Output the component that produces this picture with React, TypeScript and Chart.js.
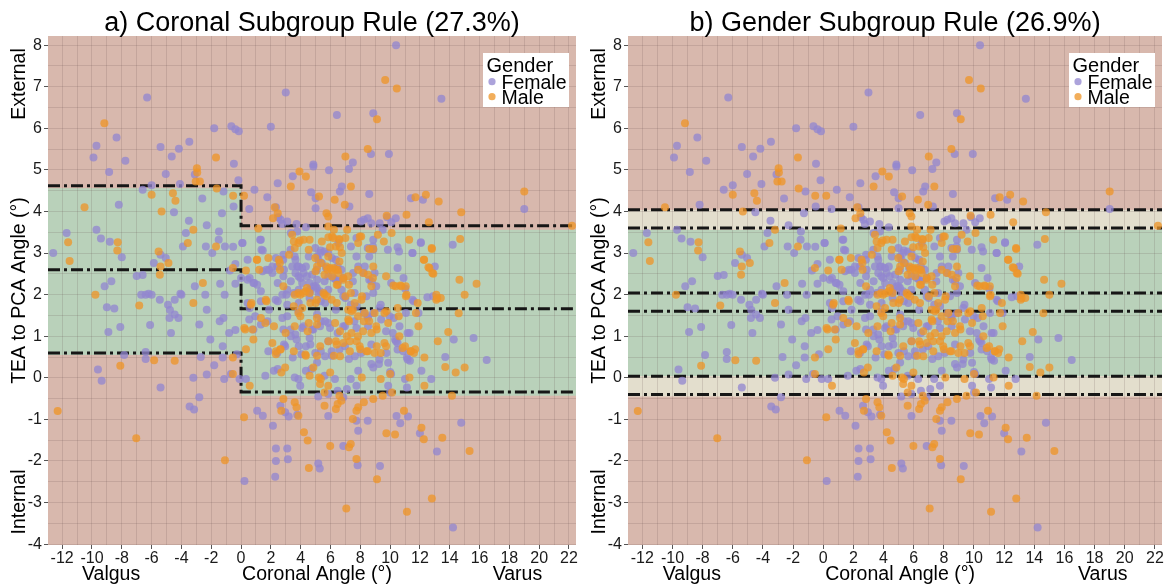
import React, { useEffect, useRef } from 'react';
import { Chart, registerables } from 'chart.js';

Chart.register(...registerables);

// ---------- axis ranges & labels ----------
const X_MIN = -12.95;
const X_MAX = 22.47;
const Y_MIN = -4.02;
const Y_MAX = 8.22;

const panelTitles = ['a) Coronal Subgroup Rule (27.3%)', 'b) Gender Subgroup Rule (26.9%)'];
const xAxisWords = ['Valgus', 'Coronal Angle (°)', 'Varus'];
const yAxisWords = ['Internal', 'TEA to PCA Angle (°)', 'External'];
const legendTitle = 'Gender';
const seriesNames = ['Female', 'Male'];

// ---------- rule values ----------
// coronal rule: split at coronal angle 0 ; [lower, mean, upper]
const coronalSplit = 0;
const valgusLines = [0.6, 2.6, 4.62];
const varusLines = [-0.34, 1.66, 3.66];
const valgusFill = [0.55, 4.56];
const varusFill = [-0.43, 3.56];
// gender rule: [lower, mean, upper]
const femaleLines = [0.04, 2.04, 4.04];
const maleLines = [-0.4, 1.6, 3.6];
const genderOverlap = [0.04, 3.56];
const genderUpperOnly = [3.56, 4.04];
const genderLowerOnly = [-0.45, 0.04];

// ---------- observations [coronal angle, TEA-PCA angle] ----------
const femaleUpper: number[][] = [
  [-12.6,3.0],[-11.7,3.48],[-9.9,5.3],[-9.7,5.58],[-8.85,4.95],[-8.35,5.78],[-7.76,5.22],[-8.2,4.16],[-9.7,3.56],[-9.4,3.35],
  [-8.8,3.27],[-8.0,2.9],[-6.3,6.74],[-6.6,4.52],[-6.0,4.63],[-5.4,5.55],[-5.05,4.9],[-4.65,5.32],[-4.17,5.51],[-3.47,5.68],
  [-4.1,4.66],[-4.5,3.98],[-3.5,3.78],[-3.7,3.48],[-3.9,3.16],[-3.1,4.89],[-2.6,4.31],[-2.3,3.67],[-2.36,3.16],[-1.8,6.0],
  [-1.48,3.52],[-1.5,3.32],[-1.18,4.48],[-1.28,3.96],[-1.08,3.16],[-0.65,6.05],[-0.38,5.98],[-0.15,5.93],[-0.48,5.15],[-0.5,4.12],
  [-0.18,4.75],[-0.53,3.15],[0.08,3.24],[-1.93,3.0],[-5.4,2.96],[-5.05,2.88],[-5.85,2.76],[-6.6,2.47],[-7.0,2.45],[-8.7,2.32],
  [-9.15,2.2],[-6.0,2.0],[-6.4,2.0],[-4.0,2.0],[-3.1,2.2],[-2.4,2.0],[-1.4,2.26],[-1.1,2.0],[-0.38,2.26],[-0.38,2.74],[-0.75,2.58],
  [0.9,4.52],[0.55,4.06],[2.0,6.04],[1.76,4.34],[2.46,4.68],[2.34,4.1],[2.5,3.86],[3.0,6.86],[3.47,4.85],[4.85,5.13],
  [4.85,5.08],[4.7,4.46],[5.0,4.32],[5.0,4.08],[5.9,4.99],[6.43,6.32],[6.63,4.48],[6.76,4.6],[7.24,5.02],[7.5,5.18],
  [7.27,4.12],[8.6,4.42],[8.72,5.38],[8.87,6.36],[9.92,5.38],[10.4,8.0],[11.4,4.32],[12.2,4.28],[13.44,6.71],[19.0,4.06],
  [14.2,3.2],[12.06,3.24],[11.5,3.0],[10.6,3.04],[10.5,2.64],[10.9,2.4],[13.0,2.68],[9.8,3.86],[10.08,3.74],[10.38,3.84],
  [8.04,3.76],[8.24,3.8],[8.5,3.84],[8.74,3.72],[9.3,3.72],[9.5,3.56],[8.87,3.32],[7.37,3.16],[7.74,2.92],[8.6,2.92],
  [8.87,3.08],[2.66,3.8],[2.76,3.7],[3.1,3.76],[3.72,3.7],[4.35,3.62],[3.34,3.48],[1.33,3.32],[1.46,3.06],[2.34,2.88],
  [2.84,2.96],[3.6,2.92],[3.77,2.68],[4.1,2.64],[4.35,2.68],[5.1,2.92],[5.35,3.06],[5.6,3.04],[5.85,3.0],[6.1,2.88],
  [6.36,2.84],[6.48,2.68],[6.73,2.6],[6.86,2.4],[6.36,2.36],[5.6,2.32],[5.1,2.36],[4.6,2.28],[4.1,2.28],[3.85,2.44],
  [3.34,2.32],[2.84,2.44],[2.46,2.28],[2.1,2.52],[1.7,2.6],[1.08,2.24],[0.83,2.28],[0.58,2.4],[7.86,2.68],[8.24,2.52],
  [7.5,2.32],[8.6,2.36],[8.87,2.04],[7.62,2.04],[4.6,2.12],[5.0,2.2],[5.2,2.04],[5.85,2.12],[6.73,2.12],[3.04,2.0],
];
const femaleLower: number[][] = [
  [-9.0,1.7],[-8.5,1.67],[-8.9,1.1],[-8.1,1.22],[-6.1,1.27],[-6.4,0.62],[-6.4,0.45],[-9.6,0.2],[-9.35,-0.07],[-7.84,0.55],
  [-5.4,-0.23],[-4.9,1.76],[-4.77,1.63],[-4.8,1.44],[-4.45,1.52],[-4.2,1.44],[-4.7,1.08],[-4.07,2.02],[-4.45,1.88],[-5.45,1.88],
  [-6.2,2.02],[-6.7,2.0],[-2.8,1.28],[-2.06,0.92],[-2.3,1.64],[-2.3,0.08],[-3.2,0.0],[-2.7,0.5],[-2.8,-0.47],[-3.45,-0.69],
  [-3.15,-0.76],[-1.8,0.3],[-1.43,1.36],[-1.18,1.44],[-1.23,0.76],[-1.13,-0.03],[-1.23,0.49],[-0.8,1.08],[-0.38,1.15],[-0.68,0.09],
  [-0.1,-0.03],[-0.28,0.57],[0.33,-0.03],[0.23,-2.48],[1.08,-0.79],[1.46,-0.91],[2.14,-1.15],[2.34,-1.7],[2.34,-2.0],[2.29,-2.38],
  [3.1,-1.7],[3.14,-1.96],[2.64,-0.67],[2.96,-0.83],[3.2,-0.93],[3.77,-0.89],[5.18,-2.06],[5.28,-2.18],[5.18,-0.45],[5.85,-0.92],
  [6.86,-1.64],[6.86,-0.47],[7.74,-1.03],[7.86,-1.27],[7.82,-2.1],[8.5,-1.03],[9.32,-2.12],[10.43,-0.92],[10.68,-1.09],[11.2,-0.93],
  [12.0,-1.33],[13.14,-1.77],[14.22,-3.6],[14.77,-1.08],[15.6,0.96],[16.48,0.43],[14.27,0.92],[13.7,0.5],[12.76,-0.03],[12.1,0.17],
  [11.13,-0.23],[10.0,-0.35],[9.87,-0.19],[10.07,0.09],[10.0,0.14],[9.87,0.36],[9.25,0.33],[8.74,0.33],[8.87,0.25],[9.75,0.6],
  [10.5,0.68],[10.88,0.64],[11.13,0.49],[11.33,0.41],[11.3,1.08],[10.33,0.92],[10.5,0.84],[10.63,1.24],[10.25,1.44],[11.9,1.56],
  [11.58,1.84],[8.5,1.44],[7.6,1.36],[8.24,1.56],[8.87,1.56],[9.37,1.76],[7.36,1.76],[6.86,1.24],[6.48,1.08],[5.85,0.88],
  [5.35,0.64],[5.1,0.37],[5.6,0.05],[6.3,-0.03],[7.1,-0.27],[7.36,-0.03],[7.74,-0.19],[7.24,0.45],[7.86,0.17],[8.06,0.6],
  [6.6,0.68],[6.1,0.53],[4.85,1.16],[4.6,0.96],[4.35,0.76],[4.05,0.57],[4.35,0.17],[3.85,-0.03],[3.6,0.01],[3.97,-0.19],
  [4.72,0.21],[3.47,0.49],[2.96,0.76],[3.34,1.0],[3.72,0.92],[4.1,1.2],[2.84,1.16],[2.46,0.21],[2.2,0.17],[1.83,0.64],
  [1.63,0.05],[1.33,1.28],[0.83,1.16],[0.95,1.48],[0.58,1.68],[1.33,1.84],[2.46,1.84],[3.1,1.76],[3.85,1.6],[5.1,1.52],
  [5.35,1.36],[5.85,1.32],[6.36,1.64],[7.0,1.92],[5.35,1.84],[4.6,1.92],[11.0,-0.03],[5.85,-0.39],[6.48,-0.31],
];
const femaleCore: number[][] = [
  [3.32,3.08],[1.37,3.08],[0.1,3.24],[1.28,3.32],[3.76,3.52],[7.74,3.36],[8.5,3.12],[8.85,3.16],[9.85,3.08],[10.5,3.14],
  [11.5,3.0],[12.06,3.26],[6.53,3.24],[5.3,3.0],[4.98,3.12],[4.54,2.92],[0.44,2.84],[0.0,2.4],[0.44,2.36],[0.88,2.28],
  [1.44,2.56],[1.88,2.6],[2.1,2.68],[2.43,2.68],[2.83,2.84],[2.88,2.6],[3.43,2.68],[3.65,2.84],[3.87,2.68],[4.2,2.52],
  [3.65,2.52],[3.98,2.4],[4.42,2.44],[4.76,2.48],[5.09,2.6],[5.2,2.84],[5.42,2.76],[5.7,2.64],[5.86,2.44],[6.2,2.4],
  [6.53,2.32],[7.52,2.52],[8.3,2.68],[8.96,2.52],[8.74,2.32],[9.07,2.2],[10.07,2.28],[11.02,2.14],[11.5,1.88],[12.5,1.94],
  [12.88,1.96],[1.33,2.08],[2.32,1.88],[2.77,2.0],[3.1,2.12],[3.54,2.04],[3.87,2.12],[4.65,2.08],[4.87,2.2],[5.09,2.16],
  [5.3,2.08],[3.87,1.8],[5.64,1.8],[6.86,1.96],[7.74,1.72],[8.41,1.96],[8.52,1.48],[9.29,1.68],[9.96,1.48],[11.06,1.56],
  [0.44,1.8],[0.55,1.4],[1.77,1.36],[1.88,1.64],[2.77,1.44],[3.1,1.48],[3.32,1.16],[3.65,1.04],[4.2,1.24],[4.76,1.16],
  [5.3,1.24],[5.64,1.36],[5.97,1.2],[6.97,1.24],[7.74,1.2],[8.52,1.24],[9.4,1.4],[9.73,1.12],[10.18,1.08],[11.17,1.08],
  [2.88,0.8],[2.43,0.6],[3.87,0.76],[4.65,0.8],[4.98,0.6],[5.64,0.52],[6.08,0.64],[6.97,0.76],[7.63,0.52],[8.74,0.8],
  [9.29,0.44],[10.4,0.88],[11.17,0.44],
];
const maleUpper: number[][] = [
  [-9.17,6.12],[-10.5,4.1],[-11.6,3.26],[-11.5,2.81],[-9.77,2.0],[-8.27,3.26],[-8.3,3.06],[-6.0,4.4],[-5.33,4.0],[-4.57,4.44],
  [-4.4,4.26],[-3.57,3.24],[-3.2,3.56],[-2.96,5.04],[-2.94,4.94],[-3.04,4.72],[-2.76,4.72],[-1.68,5.3],[-1.63,4.55],[-1.68,3.16],
  [-0.53,4.38],[0.2,4.38],[0.33,2.58],[-5.53,3.04],[-5.4,2.68],[-4.87,2.76],[-5.45,2.48],[-2.56,2.28],[-0.55,2.64],[1.16,3.59],
  [2.14,3.84],[2.46,3.96],[2.26,4.1],[3.34,4.6],[3.92,4.96],[4.35,4.84],[5.23,4.36],[5.73,3.96],[5.85,3.88],[6.28,4.28],
  [6.96,4.16],[7.0,5.32],[7.37,4.6],[8.5,5.5],[9.12,6.22],[9.67,7.16],[10.45,6.96],[9.77,3.9],[11.1,3.92],[11.7,4.34],
  [12.4,4.4],[13.26,4.24],[14.77,3.98],[12.6,3.74],[19.0,4.48],[22.2,3.66],[14.7,3.34],[12.8,3.1],[12.26,2.84],[12.64,2.64],
  [12.9,2.5],[14.65,2.36],[15.8,2.26],[15.0,2.0],[13.1,2.0],[10.75,2.2],[10.38,2.2],[11.05,2.2],[11.1,2.0],[10.1,3.48],
  [8.87,3.1],[8.06,3.4],[7.86,3.24],[7.12,3.56],[7.0,3.36],[6.6,3.32],[6.23,3.56],[6.1,3.4],[5.85,3.64],[6.36,3.16],
  [5.85,2.92],[5.73,2.68],[5.98,2.64],[6.23,2.64],[6.48,2.6],[6.1,2.44],[5.6,2.48],[5.35,2.76],[4.98,2.88],[4.6,3.32],
  [3.85,3.24],[3.6,3.12],[3.22,2.96],[2.6,2.76],[2.84,2.2],[3.6,2.0],[3.85,2.04],[4.35,2.08],[5.6,2.0],[6.48,2.24],
  [7.24,2.24],[7.37,2.04],[8.12,1.96],[8.74,2.2],[8.87,2.68],[8.6,3.1],[5.0,2.56],[5.1,2.68],[6.6,2.8],[6.86,2.36],
  [1.08,2.84],[1.83,2.88],
];
const maleLower: number[][] = [
  [-12.3,-0.8],[-6.83,1.74],[-8.1,0.29],[-7.03,-1.45],[-5.83,0.42],[-4.45,0.41],[-3.2,1.8],[-1.08,-1.98],[-0.55,0.49],[-0.55,0.09],
  [0.2,-0.95],[0.33,0.69],[0.58,-0.19],[0.28,1.16],[0.83,0.92],[0.7,1.8],[1.63,1.32],[1.7,1.84],[2.34,0.64],[2.34,0.57],
  [2.64,0.69],[2.96,0.25],[2.7,0.13],[2.84,-0.51],[2.7,-0.79],[3.6,-0.59],[3.72,-0.71],[3.85,-0.91],[3.6,1.24],[3.85,1.56],
  [4.1,1.68],[3.97,2.0],[4.6,2.04],[5.0,1.8],[5.1,1.28],[4.47,1.12],[4.35,0.53],[5.1,0.53],[4.85,0.25],[4.6,0.05],
  [5.23,0.01],[5.35,-0.03],[5.3,-0.15],[5.6,-0.35],[5.85,-0.19],[5.98,0.13],[6.23,0.53],[6.36,0.88],[6.86,0.84],[7.1,1.0],
  [7.24,1.36],[7.5,1.64],[7.62,1.8],[7.0,1.96],[8.24,1.36],[7.74,0.88],[8.0,0.69],[8.1,0.01],[8.5,0.64],[8.6,1.36],
  [9.1,1.16],[9.1,0.76],[9.37,0.6],[9.62,0.84],[9.75,1.6],[9.87,1.32],[10.0,0.09],[10.13,-0.35],[9.5,-0.43],[9.37,-0.03],
  [8.87,-0.51],[8.24,-0.59],[7.86,-0.71],[7.74,-0.79],[7.5,-0.99],[6.73,-0.55],[6.48,-0.63],[6.36,-0.75],[6.6,-0.43],[5.6,-0.67],
  [7.36,-1.59],[7.24,-1.67],[7.74,-1.95],[7.06,-3.14],[5.98,-1.64],[4.22,-1.31],[4.47,-1.51],[4.55,-2.17],[9.12,-2.44],[9.75,-1.33],
  [10.33,-1.36],[10.93,-0.79],[11.13,-3.22],[12.1,-1.2],[12.26,-1.48],[12.8,-2.9],[13.5,-1.44],[14.15,-0.43],[15.33,-1.76],[14.4,0.13],
  [15.0,0.25],[13.7,0.26],[13.9,1.1],[13.2,0.88],[14.6,1.55],[12.3,0.49],[12.3,-0.19],[11.68,0.69],[11.38,0.64],[11.0,0.76],
  [11.3,0.01],[11.9,1.24],[11.85,1.8],[13.1,1.88],[13.4,1.92],[10.58,1.48],
];
const maleCore: number[][] = [
  [3.54,3.28],[3.94,3.3],[4.2,3.32],[5.42,3.28],[5.86,3.38],[6.2,3.36],[6.57,3.34],[5.97,3.14],[6.64,3.14],[6.75,3.0],
  [4.54,3.08],[3.43,3.44],[7.96,3.4],[9.18,3.44],[9.58,3.28],[11.28,3.32],[12.79,3.12],[12.28,2.84],[12.57,2.66],[12.83,2.52],
  [1.06,2.84],[1.22,2.6],[2.54,2.84],[2.61,2.6],[5.8,2.6],[6.08,2.6],[6.37,2.6],[6.53,2.52],[6.42,2.24],[6.86,2.4],
  [7.19,2.44],[7.85,2.6],[8.19,2.52],[8.52,2.48],[8.85,2.4],[9.73,2.44],[10.22,2.22],[10.69,2.22],[11.06,1.96],[13.16,1.92],
  [1.66,1.88],[4.2,2.04],[4.42,2.16],[5.53,2.04],[5.75,1.96],[5.09,1.88],[4.65,1.8],[3.54,1.72],[6.08,1.88],[6.42,1.8],
  [7.19,1.64],[7.41,1.6],[8.08,1.88],[7.85,1.48],[8.3,1.56],[8.96,1.56],[9.62,1.56],[10.51,1.68],[11.73,1.56],[0.66,1.76],
  [0.22,1.2],[0.77,1.16],[1.33,1.44],[2.21,1.24],[2.99,1.08],[3.98,1.48],[4.54,1.32],[5.09,1.44],[6.31,1.32],[6.64,1.12],
  [7.19,1.4],[7.41,1.08],[7.85,1.0],[8.19,1.12],[8.74,1.08],[9.07,1.24],[10.62,1.0],[2.1,0.84],[2.65,0.68],[3.54,0.64],
  [4.31,0.56],[5.31,0.76],[5.86,0.88],[6.42,0.8],[6.64,0.52],[7.3,0.88],[7.3,0.64],[7.96,0.76],[8.41,0.64],[8.96,0.6],
  [9.73,0.76],[10.84,0.72],[11.39,0.64],[11.6,0.6],
];

// ---------- styles ----------
const FONT = "'Liberation Sans', Arial, sans-serif";
const PINK = '#d8b8ad';
const GREEN = '#b9d1ba';
const BEIGE = '#e3decd';
const FEMALE_COLOR = 'rgba(146, 134, 208, 0.76)';
const MALE_COLOR = 'rgba(238, 148, 40, 0.76)';
const GRID = 'rgba(105, 85, 85, 0.18)';
const LINE_COLOR = '#161616';

type Zone = { x0: number; x1: number; y0: number; y1: number; color: string };

const toXY = (rows: number[][]) => rows.map(([x, y]) => ({ x, y }));

function stepLine(left: number, right: number) {
  return [
    { x: X_MIN, y: left },
    { x: coronalSplit, y: left },
    { x: coronalSplit, y: right },
    { x: X_MAX, y: right },
  ];
}
function flatLine(v: number) {
  return [
    { x: X_MIN, y: v },
    { x: X_MAX, y: v },
  ];
}

const zonesPlugin = {
  id: 'zones',
  beforeDraw(chart: any, _a: any, opts: any) {
    const { ctx, chartArea: a, scales } = chart;
    const xs = scales.x;
    const ys = scales.y;
    ctx.save();
    ctx.beginPath();
    ctx.rect(a.left, a.top, a.right - a.left, a.bottom - a.top);
    ctx.clip();
    ctx.fillStyle = PINK;
    ctx.fillRect(a.left, a.top, a.right - a.left, a.bottom - a.top);
    (opts.zones as Zone[]).forEach((z) => {
      const px0 = xs.getPixelForValue(z.x0);
      const px1 = xs.getPixelForValue(z.x1);
      const py0 = ys.getPixelForValue(z.y0);
      const py1 = ys.getPixelForValue(z.y1);
      ctx.fillStyle = z.color;
      ctx.fillRect(Math.min(px0, px1), Math.min(py0, py1), Math.abs(px1 - px0), Math.abs(py1 - py0));
    });
    ctx.restore();
  },
};

const decorPlugin = {
  id: 'decor',
  afterDraw(chart: any, _a: any, opts: any) {
    const { ctx, chartArea: a } = chart;
    const w = a.right - a.left;
    ctx.save();
    ctx.fillStyle = '#000';
    // title
    ctx.font = `27px ${FONT}`;
    ctx.textAlign = 'center';
    ctx.textBaseline = 'alphabetic';
    ctx.fillText(opts.title, (a.left + a.right) / 2, 31);
    // x axis words
    ctx.font = `19.5px ${FONT}`;
    ctx.fillText(xAxisWords[0], a.left + w * 0.1195, 580);
    ctx.fillText(xAxisWords[1], a.left + w * 0.5095, 580);
    ctx.fillText(xAxisWords[2], a.left + w * 0.889, 580);
    // y axis words
    const ymid = (a.top + a.bottom) / 2;
    const place = (text: string, cy: number) => {
      ctx.save();
      ctx.translate(20, cy);
      ctx.rotate(-Math.PI / 2);
      ctx.textAlign = 'center';
      ctx.textBaseline = 'middle';
      ctx.fillText(text, 0, 0);
      ctx.restore();
    };
    place(yAxisWords[0], a.bottom - 43);
    place(yAxisWords[1], ymid);
    place(yAxisWords[2], a.top + 48);
    // legend
    const bx = a.right - 93;
    const by = a.top + 17;
    ctx.fillStyle = '#ffffff';
    ctx.fillRect(bx, by, 86, 54);
    ctx.fillStyle = '#000';
    ctx.textAlign = 'left';
    ctx.textBaseline = 'alphabetic';
    ctx.font = `20px ${FONT}`;
    ctx.fillText(legendTitle, bx + 3.5, by + 19);
    ctx.font = `19.5px ${FONT}`;
    const cols = [FEMALE_COLOR, MALE_COLOR];
    seriesNames.forEach((name, i) => {
      const cy = by + 28.7 + i * 15;
      ctx.fillStyle = cols[i];
      ctx.beginPath();
      ctx.arc(bx + 9, cy, 3.6, 0, Math.PI * 2);
      ctx.fill();
      ctx.fillStyle = '#000';
      ctx.fillText(name, bx + 18.5, cy + 7.6);
    });
    ctx.restore();
  },
};

const isWhole = (v: number, step: number) => Math.abs(v / step - Math.round(v / step)) < 1e-6;

function buildConfig(kind: 'coronal' | 'gender', padRight: number) {
  const pointSets = [
    { label: seriesNames[1], data: toXY([...maleUpper, ...maleLower, ...maleCore]), color: MALE_COLOR, order: 0 },
    { label: seriesNames[0], data: toXY([...femaleUpper, ...femaleLower, ...femaleCore]), color: FEMALE_COLOR, order: 1 },
  ].map((s) => ({
    type: 'scatter' as const,
    label: s.label,
    data: s.data,
    backgroundColor: s.color,
    borderWidth: 0,
    pointRadius: 4,
    pointHoverRadius: 4,
    order: s.order,
  }));

  const lineSets =
    kind === 'coronal'
      ? [0, 1, 2].map((i) => stepLine(valgusLines[i], varusLines[i]))
      : [...femaleLines, ...maleLines].map((v) => flatLine(v));

  const lines = lineSets.map((d) => ({
    type: 'scatter' as const,
    label: 'rule',
    data: d,
    showLine: true,
    borderColor: LINE_COLOR,
    borderWidth: 3,
    borderDash: [12, 4, 3, 4],
    borderCapStyle: 'butt',
    pointRadius: 0,
    pointHoverRadius: 0,
    fill: false,
    tension: 0,
    order: 2,
  }));

  const zones: Zone[] =
    kind === 'coronal'
      ? [
          { x0: X_MIN, x1: coronalSplit, y0: valgusFill[0], y1: valgusFill[1], color: GREEN },
          { x0: coronalSplit, x1: X_MAX, y0: varusFill[0], y1: varusFill[1], color: GREEN },
        ]
      : [
          { x0: X_MIN, x1: X_MAX, y0: genderOverlap[0], y1: genderOverlap[1], color: GREEN },
          { x0: X_MIN, x1: X_MAX, y0: genderUpperOnly[0], y1: genderUpperOnly[1], color: BEIGE },
          { x0: X_MIN, x1: X_MAX, y0: genderLowerOnly[0], y1: genderLowerOnly[1], color: BEIGE },
        ];

  return {
    type: 'scatter' as const,
    data: { datasets: [...pointSets, ...lines] },
    plugins: [zonesPlugin, decorPlugin],
    options: {
      animation: false,
      responsive: false,
      devicePixelRatio: 1,
      events: [],
      layout: { padding: { top: 36, right: padRight, left: 0, bottom: 0 } },
      plugins: {
        legend: { display: false },
        title: { display: false },
        tooltip: { enabled: false },
        zones: { zones },
        decor: { title: kind === 'coronal' ? panelTitles[0] : panelTitles[1] },
      },
      scales: {
        x: {
          type: 'linear',
          min: X_MIN,
          max: X_MAX,
          border: { display: false },
          grid: {
            color: GRID,
            lineWidth: 1,
            tickLength: 4,
            tickColor: (c: any) => (c.tick && isWhole(c.tick.value, 2) ? '#555' : 'rgba(0,0,0,0)'),
          },
          ticks: {
            stepSize: 1,
            autoSkip: false,
            includeBounds: false,
            maxRotation: 0,
            padding: 0,
            color: '#1a1a1a',
            font: { size: 16, family: FONT },
            callback: (v: any) => (isWhole(Number(v), 2) ? String(Math.round(Number(v))) : ''),
          },
          afterFit: (s: any) => {
            s.height = 39;
            s.paddingLeft = 0;
            s.paddingRight = 0;
          },
        },
        y: {
          type: 'linear',
          min: Y_MIN,
          max: Y_MAX,
          border: { display: false },
          grid: {
            color: GRID,
            lineWidth: 1,
            tickLength: 4,
            tickColor: (c: any) => (c.tick && isWhole(c.tick.value, 1) ? '#555' : 'rgba(0,0,0,0)'),
          },
          ticks: {
            stepSize: 0.5,
            autoSkip: false,
            includeBounds: false,
            padding: 2,
            color: '#1a1a1a',
            font: { size: 16, family: FONT },
            callback: (v: any) => (isWhole(Number(v), 1) ? String(Math.round(Number(v))) : ''),
          },
          afterFit: (s: any) => {
            s.width = 48;
            s.paddingTop = 0;
            s.paddingBottom = 0;
          },
        },
      },
    },
  };
}

function Panel({ kind, width, padRight }: { kind: 'coronal' | 'gender'; width: number; padRight: number }) {
  const ref = useRef<HTMLCanvasElement>(null);
  useEffect(() => {
    const chart = new Chart(ref.current as HTMLCanvasElement, buildConfig(kind, padRight) as any);
    return () => chart.destroy();
  }, [kind, width, padRight]);
  return <canvas ref={ref} width={width} height={584} style={{ display: 'block', width, height: 584 }} />;
}

export default function App() {
  return (
    <div style={{ position: 'absolute', left: 0, top: 0, width: 1169, height: 584, display: 'flex', background: '#fff' }}>
      <Panel kind="coronal" width={580} padRight={0} />
      <Panel kind="gender" width={589} padRight={7} />
    </div>
  );
}
